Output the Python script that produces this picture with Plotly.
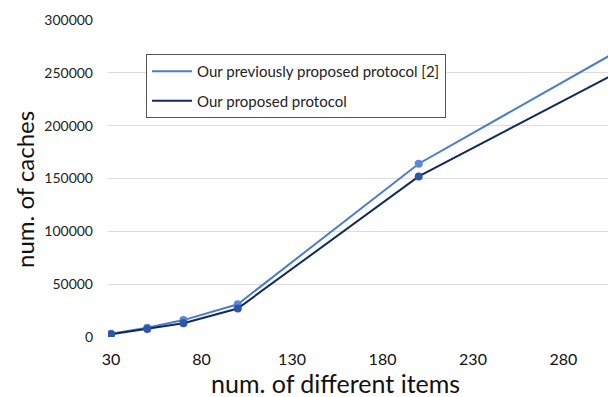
import plotly.graph_objects as go

items = [30, 50, 70, 100, 200, 400]
prev_caches = [3000, 8800, 16000, 31000, 164000, 358000]
prop_caches = [2500, 7600, 13000, 27000, 152000, 331000]
series_names = ["Our previously proposed protocol [2]", "Our proposed protocol"]
x_ticks = [30, 80, 130, 180, 230, 280]
y_ticks = [0, 50000, 100000, 150000, 200000, 250000, 300000]

FONT = "Lato, 'Open Sans', sans-serif"
line_colors = ["#4a7dcc", "#12295e"]
marker_colors = ["#5b88d5", "#2c56a8"]

fig = go.Figure()
for name, ys, lc, mc in zip(series_names, [prev_caches, prop_caches], line_colors, marker_colors):
    fig.add_trace(go.Scatter(
        x=items, y=ys, name=name, mode="lines+markers", showlegend=False,
        line=dict(color=lc, width=2),
        marker=dict(color=mc, size=8),
    ))
# legend entries (line only, as in reference)
for i, (name, lc) in enumerate(zip(series_names, line_colors)):
    fig.add_trace(go.Scatter(
        x=[None], y=[None], name=name, mode="lines", legendgroup=f"g{i}",
        line=dict(color=lc, width=2),
    ))

fig.update_layout(
    width=608, height=397,
    margin=dict(l=108, r=0, t=20, b=60),
    paper_bgcolor="white", plot_bgcolor="white",
    font=dict(family=FONT, color="#222222"),
    showlegend=True,
    legend=dict(
        x=0.076, y=0.893, xanchor="left", yanchor="top",
        bgcolor="white", bordercolor="#555555", borderwidth=1,
        font=dict(size=15, family=FONT, color="#222222"),
        itemwidth=40, tracegroupgap=7,
    ),
    xaxis=dict(
        range=[28.3, 304.6], tickvals=x_ticks, ticktext=[str(v) for v in x_ticks],
        showgrid=False, zeroline=False, showline=False,
        tickfont=dict(size=16, family=FONT, color="#111111"),
        ticklabelstandoff=11,
    ),
    yaxis=dict(
        range=[0, 300000], tickvals=y_ticks, ticktext=[str(v) for v in y_ticks],
        showgrid=True, gridcolor="#dcdcdc", gridwidth=1,
        zeroline=False, showline=False,
        tickfont=dict(size=14, family=FONT, color="#222222"),
        ticklabelstandoff=14,
    ),
    annotations=[
        dict(text="num. of different items", x=0.454, y=-0.145, xref="paper", yref="paper",
             xanchor="center", yanchor="middle", showarrow=False,
             font=dict(size=25, family=FONT, color="#111111")),
        dict(text="num. of caches", x=-0.166, y=0.464, xref="paper", yref="paper",
             xanchor="center", yanchor="middle", showarrow=False, textangle=-90,
             font=dict(size=24, family=FONT, color="#111111")),
    ],
)

fig.write_html("out.html", config={"displayModeBar": False},
               post_script="document.body.style.margin='0';document.body.style.overflow='hidden';")
